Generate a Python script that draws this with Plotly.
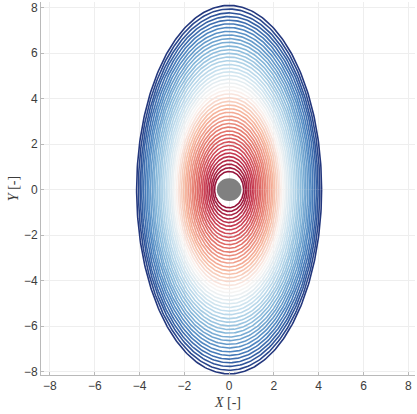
import numpy as np
import plotly.graph_objects as go
from plotly.colors import sample_colorscale

# Semi-axes of the concentric ellipses (x half-width, y half-height)
semi_x = [0.65, 0.73, 0.80, 0.88, 0.96, 1.04, 1.11, 1.19, 1.27, 1.35, 1.42, 1.50,
          1.58, 1.65, 1.73, 1.81, 1.89, 1.96, 2.04, 2.12, 2.20, 2.27, 2.35, 2.43,
          2.51, 2.58, 2.66, 2.74, 2.81, 2.89, 2.97, 3.05, 3.12, 3.20, 3.28, 3.36,
          3.43, 3.51, 3.59, 3.66, 3.74, 3.82, 3.90, 3.97, 4.05, 4.13]
semi_y = [0.80, 0.96, 1.12, 1.29, 1.45, 1.61, 1.77, 1.94, 2.10, 2.26, 2.42, 2.58,
          2.75, 2.91, 3.07, 3.23, 3.40, 3.56, 3.72, 3.88, 4.04, 4.21, 4.37, 4.53,
          4.69, 4.86, 5.02, 5.18, 5.34, 5.50, 5.67, 5.83, 5.99, 6.15, 6.31, 6.48,
          6.64, 6.80, 6.96, 7.13, 7.29, 7.45, 7.61, 7.77, 7.94, 8.10]
core_radius_x = 0.55
core_radius_y = 0.50
tick_vals = [-8, -6, -4, -2, 0, 2, 4, 6, 8]

cscale = [[0.0, "rgb(150,20,58)"], [0.12, "rgb(200,60,82)"], [0.25, "rgb(228,118,108)"],
          [0.38, "rgb(246,182,158)"], [0.5, "rgb(250,246,244)"], [0.62, "rgb(198,224,238)"],
          [0.75, "rgb(135,184,218)"], [0.87, "rgb(78,134,192)"], [0.95, "rgb(48,88,158)"],
          [1.0, "rgb(35,55,125)"]]

n = len(semi_x)
cols = sample_colorscale(cscale, [i / (n - 1) for i in range(n)])
t = np.linspace(0, 2 * np.pi, 361)

fig = go.Figure()
for a, b, c in zip(semi_x, semi_y, cols):
    fig.add_trace(go.Scatter(x=a * np.cos(t), y=b * np.sin(t), mode="lines",
                             line=dict(color=c, width=1.6), hoverinfo="skip",
                             showlegend=False))

fig.add_shape(type="circle", xref="x", yref="y",
              x0=-core_radius_x, x1=core_radius_x, y0=-core_radius_y, y1=core_radius_y,
              fillcolor="rgb(128,128,128)", line=dict(width=0))

axis_common = dict(tickvals=tick_vals, showgrid=True, gridcolor="rgb(238,238,238)",
                   gridwidth=1, zeroline=False, showline=True, linecolor="rgb(185,185,185)",
                   linewidth=1, ticks="inside", ticklen=3, tickcolor="rgb(185,185,185)",
                   tickfont=dict(family="Liberation Sans, Arial", size=12, color="rgb(60,60,60)"),
                   mirror=False)

fig.update_layout(
    width=417, height=414,
    margin=dict(l=41, r=2, t=2, b=39),
    paper_bgcolor="white", plot_bgcolor="white",
    xaxis=dict(range=[-8.4, 8.3], title=dict(text="<i>X</i> [-]", standoff=4,
               font=dict(family="Liberation Serif, Times New Roman", size=14, color="rgb(60,60,60)")),
               **axis_common),
    yaxis=dict(range=[-8.15, 8.25], title=dict(text="<i>Y</i> [-]", standoff=2,
               font=dict(family="Liberation Serif, Times New Roman", size=14, color="rgb(60,60,60)")),
               **axis_common),
)

fig.write_html("out.html")
